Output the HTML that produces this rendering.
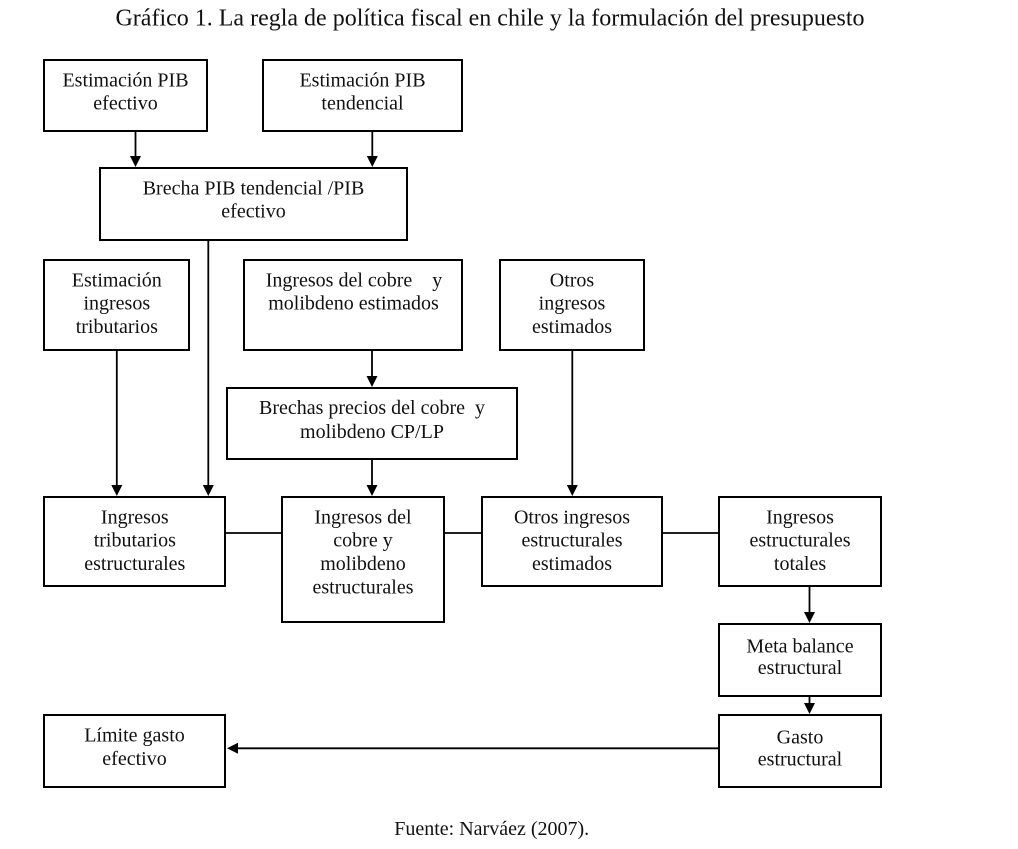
<!DOCTYPE html>
<html>
<head>
<meta charset="utf-8">
<style>
html,body{margin:0;padding:0;background:#fff;}
svg{display:block;}
text{font-family:"Liberation Serif","Times New Roman",serif;fill:#111;}
</style>
</head>
<body>
<svg width="1018" height="849" viewBox="0 0 1018 849" xmlns="http://www.w3.org/2000/svg">
<rect x="0" y="0" width="1018" height="849" fill="#fff"/>
<text x="490" y="25.5" font-size="24" text-anchor="middle">Gráfico 1. La regla de política fiscal en chile y la formulación del presupuesto</text>

<g fill="none" stroke="#000" stroke-width="2">
  <rect x="44" y="60" width="163" height="71"/>
  <rect x="263" y="60" width="199" height="71"/>
  <rect x="100" y="168" width="307" height="72"/>
  <rect x="44" y="260" width="145" height="90"/>
  <rect x="244" y="260" width="218" height="90"/>
  <rect x="500" y="260" width="144" height="90"/>
  <rect x="227" y="388" width="290" height="71"/>
  <rect x="44" y="497" width="181" height="89"/>
  <rect x="282" y="497" width="162" height="125"/>
  <rect x="482" y="497" width="180" height="89"/>
  <rect x="719" y="497" width="162" height="89"/>
  <rect x="719" y="624" width="162" height="72"/>
  <rect x="719" y="715" width="162" height="72"/>
  <rect x="44" y="715" width="181" height="72"/>
</g>

<g stroke="#000" stroke-width="1.8" fill="none">
  <line x1="135.5" y1="132" x2="135.5" y2="157"/>
  <line x1="372.3" y1="132" x2="372.3" y2="157"/>
  <line x1="208.3" y1="241" x2="208.3" y2="486"/>
  <line x1="116.8" y1="351" x2="116.8" y2="486"/>
  <line x1="372" y1="351" x2="372" y2="377"/>
  <line x1="372" y1="460" x2="372" y2="486"/>
  <line x1="572.3" y1="351" x2="572.3" y2="486"/>
  <line x1="226" y1="533" x2="281" y2="533"/>
  <line x1="445" y1="533" x2="481" y2="533"/>
  <line x1="663" y1="533" x2="718" y2="533"/>
  <line x1="809.5" y1="587" x2="809.5" y2="613"/>
  <line x1="809.5" y1="697" x2="809.5" y2="704"/>
  <line x1="718" y1="748.3" x2="237" y2="748.3"/>
</g>

<g fill="#000">
  <polygon points="130,156 141,156 135.5,167"/>
  <polygon points="366.8,156 377.8,156 372.3,167"/>
  <polygon points="202.8,485 213.8,485 208.3,496"/>
  <polygon points="111.3,485 122.3,485 116.8,496"/>
  <polygon points="366.5,376 377.5,376 372,387"/>
  <polygon points="366.5,485 377.5,485 372,496"/>
  <polygon points="566.8,485 577.8,485 572.3,496"/>
  <polygon points="804,612 815,612 809.5,623"/>
  <polygon points="804,703 815,703 809.5,714"/>
  <polygon points="238,742.8 238,753.8 227,748.3"/>
</g>

<g font-size="20" text-anchor="middle">
  <text x="125.5" y="86.5">Estimación PIB</text>
  <text x="125.5" y="109.5">efectivo</text>

  <text x="362.5" y="86.5">Estimación PIB</text>
  <text x="362.5" y="109.5">tendencial</text>

  <text x="253.5" y="194.5">Brecha PIB tendencial /PIB</text>
  <text x="253.5" y="217.5">efectivo</text>

  <text x="116.8" y="286.3">Estimación</text>
  <text x="116.8" y="309.6">ingresos</text>
  <text x="116.8" y="332.8">tributarios</text>

  <text x="354" y="286.3" xml:space="preserve">Ingresos del cobre    y</text>
  <text x="353.5" y="309.6">molibdeno estimados</text>

  <text x="572" y="286.3">Otros</text>
  <text x="572" y="309.6">ingresos</text>
  <text x="572" y="332.8">estimados</text>

  <text x="372" y="414" xml:space="preserve">Brechas precios del cobre  y</text>
  <text x="372" y="438">molibdeno CP/LP</text>

  <text x="134.8" y="523.3">Ingresos</text>
  <text x="134.8" y="546.6">tributarios</text>
  <text x="134.8" y="570">estructurales</text>

  <text x="363" y="523.3">Ingresos del</text>
  <text x="363" y="546.6">cobre y</text>
  <text x="363" y="570">molibdeno</text>
  <text x="363" y="593.3">estructurales</text>

  <text x="572" y="523.3">Otros ingresos</text>
  <text x="572" y="546.6">estructurales</text>
  <text x="572" y="570">estimados</text>

  <text x="800" y="523.3">Ingresos</text>
  <text x="800" y="546.6">estructurales</text>
  <text x="800" y="570">totales</text>

  <text x="800" y="652.5">Meta balance</text>
  <text x="800" y="674">estructural</text>

  <text x="800" y="743.3">Gasto</text>
  <text x="800" y="765.3">estructural</text>

  <text x="134.5" y="741.7">Límite gasto</text>
  <text x="134.5" y="765">efectivo</text>

  <text x="491.7" y="835">Fuente: Narváez (2007).</text>
</g>
</svg>
</body>
</html>
